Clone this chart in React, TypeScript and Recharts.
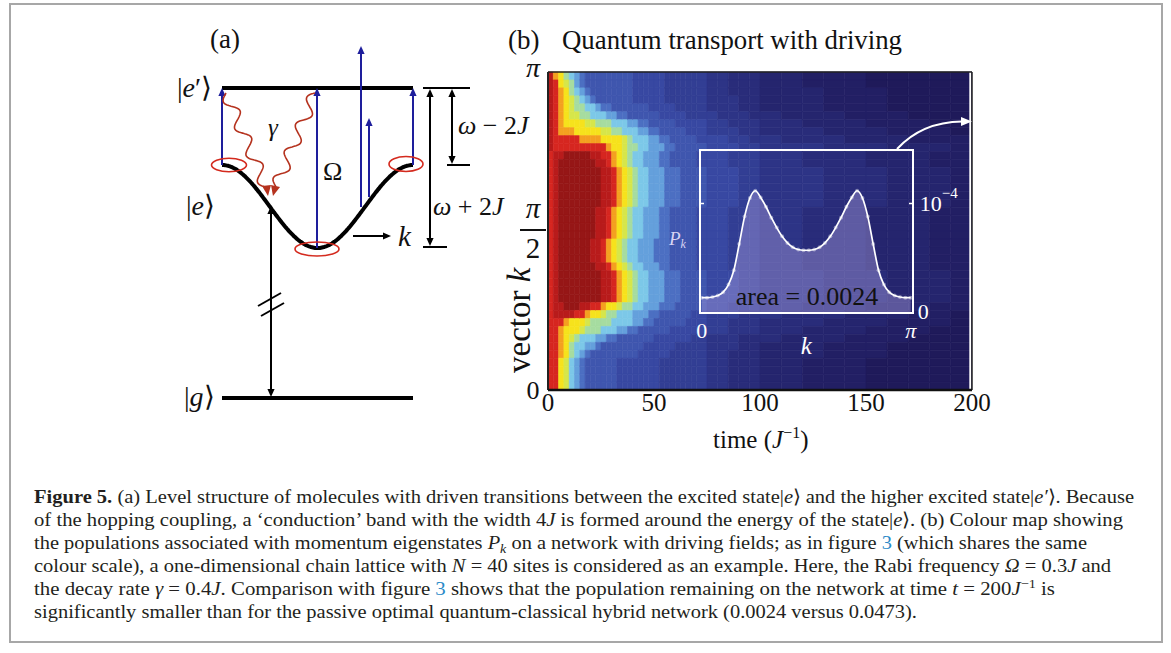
import React from 'react';
import { BarChart, Bar, Cell, XAxis, YAxis, ReferenceLine, AreaChart, Area } from 'recharts';

const FONT = '"Liberation Serif", "Times New Roman", serif';

// column edges of the colour map, in units of J^-1
const timeEdges = [
  0, 2.5, 5, 7.5, 10, 12.5, 15, 17.5, 20, 22.5, 25, 27.5, 30, 32.5, 35, 37.5, 40, 42.5, 45, 47.5,
  50, 52.5, 55, 57.5, 60, 62.5, 65, 67.5, 70, 75, 80, 85, 90, 95, 100, 110, 120, 130, 140, 150,
  160, 170, 180, 190, 200,
];
const timeTicks = [0, 50, 100, 150, 200];
const innerTicks = [50, 100, 150];
// k rows that carry the tick labels pi, pi/2 and 0 (row 0 is k = pi)
const kTickRows = [0, 19, 39];
const finalTime = 199.2;
const endTime = 200;

// colour levels, low (navy) to high (dark red)
const levelChars = '0123456789abcdefgh';
const levelColors = [
  '#1f1a5a', '#221f64', '#25256e', '#292c7a', '#2d3486', '#323e94', '#3848a2', '#3f56ae',
  '#4c6fc2', '#64a0dc', '#7cc8e8', '#a6dca0', '#d6e64a', '#f6e21c', '#f4a020', '#d62620',
  '#b81b1b', '#961616',
];

// one string per k row (k = pi first), one char per time column
const heatRows = [
  'gedba98 777777777 666666 5555555 | 44333 | 2211100000',
  'gfdcb98 777777777 666666 5555555 | 44333 | 2211100000',
  'gfedba98 77777777 666666 5555555 | 44333 | 2221110000',
  'gfedcba98 7777777 666666 5555555 | 44433 | 2221110000',
  'gfedcbbaa988 7777777 66666 55555 | 44433 | 2221110000',
  'gfedccbbaaa9988 777777 66666 555 | 54443 | 3222111000',
  'gfeddddccbbbaaa9988 77777 66666 | 55444 | 3322211100',
  'gfeeedddddccbbaaa9988 77777 666 | 55544 | 3332221110',
  'gfffffeeeeddddcbaaa9988 77777 6 | 66554 | 4333222111',
  'gffffffffffeddcbbaa99988 77777 | 66655 | 4443332221',
  'fgghhhhhggffedcbaa99988 777776 | 66555 | 4433322211',
  'fghhhhhhhggfedcbaa99988 777776 | 66555 | 4433322211',
  'fghhhhhhhhggfedcbaa999888 7777 | 66655 | 4443332221',
  'fghhhhhhhhggfedcbaa999888 7777 | 66655 | 4443332221',
  'fghhhhhhhhggfedcbaa999888 7777 | 66655 | 4443332221',
  'fghhhhhhhhggfedcbaa999888 7777 | 66655 | 4443332221',
  'fghhhhhhhhggfedcbaa999888 7777 | 66655 | 4443332221',
  'fghhhhhhhggfedcbaa99988 777776 | 66555 | 4433322211',
  'fghhhhhhhggfedcbaa99988 777776 | 66555 | 4433322211',
  'fghhhhhhhggfedcbaa99988 777776 | 66555 | 4433322211',
  'fghhhhhhhggfedcbaa99988 777776 | 66555 | 4433322211',
  'fghhhhhhggfedcbaa999888 777776 | 66555 | 4433322211',
  'fghhhhhhggfedcbaa999888 777776 | 66555 | 4433322211',
  'fghhhhhhggfedcbaa999888 777776 | 66555 | 4433322211',
  'fghhhhhhhggfedcbaa99988 777776 | 66555 | 4433322211',
  'fghhhhhhhhggfedcbaa999888 7777 | 66655 | 4443332221',
  'fghhhhhhhhggfedcbaa999888 7777 | 66655 | 4443332221',
  'fghhhhhhhhggfedcbaa999888 7777 | 66655 | 4443332221',
  'fghhhhhhhhggfedcbaa999888 7777 | 66655 | 4443332221',
  'fgghhhggffeddcbbaa999888 77777 | 66555 | 4433322211',
  'fggggffeddcbbaaa99988 777777 66 | 55544 | 4333222110',
  'fffedddcbbbbaaaa9988 777777 666 | 55444 | 3332221110',
  'ffedddcbbbaaa9988 777777 666666 | 55444 | 3322211100',
  'ffedcbaaa9988 7777777 6666666 55 | 44433 | 3222111000',
  'ffedbaa998 77777777 666666 55555 | 44433 | 2221110000',
  'ffedba98 777777777 666666 555555 | 44333 | 2221110000',
  'ffdca98 777777 66666666 55555555 | 44333 | 2211100000',
  'ffdca98 777777 66666666 55555555 | 44333 | 2211100000',
  'ffdca98 777777 66666666 55555555 | 44333 | 2211100000',
  'ffdca98 777777 66666666 55555555 | 44333 | 2211100000',
];

// inset: final population per site (units of 1e-4)
const insetSite = [
  1, 2, 3, 4, 5, 6, 7, 8, 9, 10, 11, 12, 13, 14, 15, 16, 17, 18, 19, 20,
  21, 22, 23, 24, 25, 26, 27, 28, 29, 30, 31, 32, 33, 34, 35, 36, 37, 38, 39, 40,
];
const insetP = [
  0.14, 0.14, 0.146, 0.16, 0.19, 0.26, 0.39, 0.63, 0.88, 1.05, 1.116, 1.055, 0.97, 0.87, 0.78,
  0.7, 0.64, 0.6, 0.58, 0.573, 0.573, 0.58, 0.6, 0.64, 0.7, 0.78, 0.87, 0.97, 1.055, 1.116,
  1.05, 0.88, 0.63, 0.39, 0.26, 0.19, 0.16, 0.146, 0.14, 0.14,
];
const insetXTicks = [1, 40];
const insetYTicks = [0, 1];

const heatLevels = heatRows.map((r) => r.replace(/[\s|]/g, ''));
const heatData = heatLevels.map((_, i) => {
  const row: Record<string, number> = { row: i };
  for (let j = 0; j < timeEdges.length - 1; j++) row['s' + j] = timeEdges[j + 1] - timeEdges[j];
  return row;
});
const colourAt = (i: number, j: number) => {
  const idx = levelChars.indexOf(heatLevels[i][j] ?? '0');
  return levelColors[Math.max(0, idx)];
};
const insetData = insetSite.map((s, i) => ({ site: s, p: insetP[i] }));

// half of one k row, so labels sit on the edges / between rows 19 and 20
const HALF_ROW = 318 / heatRows.length / 2;

const KTick = (props: any) => {
  const { x, y, payload } = props;
  const cx = x - 15;
  const v = payload.value;
  if (v === 0) {
    const yy = y - HALF_ROW;
    return (
      <text x={cx} y={yy + 5} textAnchor="middle" fontSize={28} fontStyle="italic" fontFamily={FONT} fill="#111">
        π
      </text>
    );
  }
  const yy = y + HALF_ROW;
  if (v === 19) {
    return (
      <g fontFamily={FONT} fill="#111">
        <text x={cx} y={yy - 13} textAnchor="middle" fontSize={29} fontStyle="italic">π</text>
        <line x1={cx - 13} x2={cx + 13} y1={yy - 1} y2={yy - 1} stroke="#111" strokeWidth={2} />
        <text x={cx} y={yy + 27} textAnchor="middle" fontSize={29}>2</text>
      </g>
    );
  }
  return (
    <text x={cx} y={yy + 9} textAnchor="middle" fontSize={26} fontFamily={FONT} fill="#111">
      0
    </text>
  );
};

const InsetXTick = (props: any) => {
  const { x, y, payload } = props;
  const isPi = payload.value !== 1;
  return (
    <text x={x} y={y + 25} textAnchor="middle" fill="#fff" fontSize={22} fontFamily={FONT} fontStyle={isPi ? 'italic' : 'normal'}>
      {isPi ? 'π' : '0'}
    </text>
  );
};

const InsetYTick = (props: any) => {
  const { x, y, payload } = props;
  if (payload.value === 0) {
    return (
      <text x={x} y={y + 6} fill="#fff" fontSize={22} fontFamily={FONT}>0</text>
    );
  }
  return (
    <text x={x + 2} y={y + 8} fill="#fff" fontSize={22} fontFamily={FONT}>
      10<tspan dy={-13} fontSize={15}>−4</tspan>
    </text>
  );
};

const head = (x: number, y: number, dir: 'up' | 'down' | 'right', color: string, s = 8) => {
  const w = s * 0.45;
  let pts = '';
  if (dir === 'up') pts = `${x},${y} ${x - w},${y + s} ${x + w},${y + s}`;
  if (dir === 'down') pts = `${x},${y} ${x - w},${y - s} ${x + w},${y - s}`;
  if (dir === 'right') pts = `${x},${y} ${x - s},${y - w} ${x - s},${y + w}`;
  return <polygon points={pts} fill={color} />;
};

const wavy = (x0: number, y0: number, x1: number, y1: number, amp: number, waves: number) => {
  const dx = x1 - x0;
  const dy = y1 - y0;
  const len = Math.hypot(dx, dy);
  const nx = -dy / len;
  const ny = dx / len;
  let d = '';
  for (let i = 0; i <= 80; i++) {
    const s = i / 80;
    const o = amp * Math.sin(2 * Math.PI * waves * s);
    const px = x0 + dx * s + nx * o;
    const py = y0 + dy * s + ny * o;
    d += (i === 0 ? 'M' : 'L') + px.toFixed(1) + ' ' + py.toFixed(1) + ' ';
  }
  return d;
};

const band = (() => {
  let d = '';
  for (let x = 222; x <= 413; x += 1) {
    const y = 206.5 - 41.5 * Math.cos((2 * Math.PI * (x - 222)) / 191);
    d += (x === 222 ? 'M' : 'L') + x + ' ' + y.toFixed(1) + ' ';
  }
  return d;
})();

const BLUE = '#1e1e9c';
const RED = '#d42a1e';
const WAVE = '#b5321e';

const PanelA = () => (
  <g fontFamily={FONT} fill="#111">
    <text x={210} y={48} fontSize={27}>(a)</text>
    <line x1={222} y1={88} x2={413} y2={88} stroke="#000" strokeWidth={4} />
    <line x1={222} y1={398} x2={413} y2={398} stroke="#000" strokeWidth={4} />
    <path d={band} stroke="#000" strokeWidth={4} fill="none" />
    {/* driving arrows */}
    <g stroke={BLUE} strokeWidth={2}>
      <line x1={222} y1={165} x2={222} y2={95} />
      <line x1={317} y1={248} x2={317} y2={95} />
      <line x1={413} y1={165} x2={413} y2={95} />
      <line x1={361} y1={207} x2={361} y2={53} />
      <line x1={369} y1={197} x2={369} y2={125} />
    </g>
    {head(222, 88, 'up', BLUE)}
    {head(317, 88, 'up', BLUE)}
    {head(413, 88, 'up', BLUE)}
    {head(361, 46, 'up', BLUE)}
    {head(369, 118, 'up', BLUE)}
    <g stroke={RED} strokeWidth={1.6} fill="none">
      <ellipse cx={229} cy={165} rx={17.5} ry={6.7} />
      <ellipse cx={317} cy={249} rx={22} ry={7} />
      <ellipse cx={406} cy={164} rx={17} ry={7.5} />
    </g>
    {/* decay */}
    <path d={wavy(226, 93, 266, 187, 6, 3.5)} stroke={WAVE} strokeWidth={1.6} fill="none" />
    <path d={wavy(315, 93, 276, 187, 6, 3.5)} stroke={WAVE} strokeWidth={1.6} fill="none" />
    <polygon points="268,196 262,186 271,185" fill={WAVE} />
    <polygon points="273,196 271,185 280,187" fill={WAVE} />
    {/* ground to band */}
    <line x1={271} y1={214} x2={271} y2={390} stroke="#000" strokeWidth={2} />
    {head(271, 206, 'up', '#000')}
    {head(271, 397, 'down', '#000')}
    <line x1={258} y1={306} x2={281} y2={293} stroke="#000" strokeWidth={2} />
    <line x1={261} y1={316} x2={284} y2={303} stroke="#000" strokeWidth={2} />
    {/* widths */}
    <line x1={423} y1={88} x2={470} y2={88} stroke="#000" strokeWidth={2} />
    <line x1={423} y1={247} x2={447} y2={247} stroke="#000" strokeWidth={2} />
    <line x1={447} y1={165} x2={470} y2={165} stroke="#000" strokeWidth={2} />
    <line x1={430} y1={96} x2={430} y2={239} stroke="#000" strokeWidth={2} />
    {head(430, 89, 'up', '#000')}
    {head(430, 246, 'down', '#000')}
    <line x1={452} y1={96} x2={452} y2={157} stroke="#000" strokeWidth={2} />
    {head(452, 89, 'up', '#000')}
    {head(452, 164, 'down', '#000')}
    <line x1={353} y1={236} x2={383} y2={236} stroke="#000" strokeWidth={2} />
    {head(391, 236, 'right', '#000')}
    {/* labels */}
    <text x={177} y={97} fontSize={28}>|<tspan fontStyle="italic">e</tspan>′⟩</text>
    <text x={186} y={215} fontSize={28}>|<tspan fontStyle="italic">e</tspan>⟩</text>
    <text x={184} y={406} fontSize={28}>|<tspan fontStyle="italic">g</tspan>⟩</text>
    <text x={268} y={136} fontSize={25} fontStyle="italic">γ</text>
    <text x={323} y={180} fontSize={26}>Ω</text>
    <text x={398} y={246} fontSize={29} fontStyle="italic">k</text>
    <text x={458} y={134} fontSize={26}><tspan fontStyle="italic">ω</tspan> − 2<tspan fontStyle="italic">J</tspan></text>
    <text x={433} y={215} fontSize={26}><tspan fontStyle="italic">ω</tspan> + 2<tspan fontStyle="italic">J</tspan></text>
  </g>
);

const capStyle = { fontFamily: FONT, fontSize: 19, fill: '#231f20' } as const;
const I = ({ children }: { children: React.ReactNode }) => <tspan fontStyle="italic">{children}</tspan>;
const LINK = '#2a8ac8';

const Caption = () => (
  <g style={capStyle}>
    <text x={34} y={503} textLength={1100} lengthAdjust="spacingAndGlyphs">
      <tspan fontWeight="bold">Figure 5.</tspan> (a) Level structure of molecules with driven transitions between the excited state|<I>e</I>⟩ and the higher excited state|<I>e′</I>⟩. Because
    </text>
    <text x={34} y={526} textLength={1089} lengthAdjust="spacingAndGlyphs">
      of the hopping coupling, a ‘conduction’ band with the width 4<I>J</I> is formed around the energy of the state|<I>e</I>⟩. (b) Colour map showing
    </text>
    <text x={34} y={549} textLength={1053} lengthAdjust="spacingAndGlyphs">
      the populations associated with momentum eigenstates <I>P</I><tspan fontSize={13} dy={4} fontStyle="italic">k</tspan><tspan dy={-4}> on a network with driving fields; as in figure </tspan><tspan fill={LINK}>3</tspan> (which shares the same
    </text>
    <text x={34} y={572} textLength={1077} lengthAdjust="spacingAndGlyphs">
      colour scale), a one-dimensional chain lattice with <I>N</I> = 40 sites is considered as an example. Here, the Rabi frequency <I>Ω</I> = 0.3<I>J</I> and
    </text>
    <text x={34} y={595} textLength={1021} lengthAdjust="spacingAndGlyphs">
      the decay rate <I>γ</I> = 0.4<I>J</I>. Comparison with figure <tspan fill={LINK}>3</tspan> shows that the population remaining on the network at time <I>t</I> = 200<I>J</I><tspan fontSize={13} dy={-7}>−1</tspan><tspan dy={7}> is</tspan>
    </text>
    <text x={34} y={618} textLength={883} lengthAdjust="spacingAndGlyphs">
      significantly smaller than for the passive optimal quantum-classical hybrid network (0.0024 versus 0.0473).
    </text>
  </g>
);

const PanelBLabels = () => (
  <g fontFamily={FONT} fill="#111">
    <text x={508} y={49} fontSize={27}>(b)</text>
    <text x={562} y={49} fontSize={27} textLength={340} lengthAdjust="spacingAndGlyphs">Quantum transport with driving</text>
    <text x={713} y={448} fontSize={25}>
      time (<I>J</I><tspan fontSize={16} dy={-10}>−1</tspan><tspan dy={10}>)</tspan>
    </text>
    <text transform="translate(530 373) rotate(-90)" fontSize={33}>
      vector <I>k</I>
    </text>
    {/* inset frame and decorations */}
    <rect x={700} y={150} width={213} height={163} fill="none" stroke="#fff" strokeWidth={2} />
    <line x1={700} y1={203.5} x2={704} y2={203.5} stroke="#fff" strokeWidth={1.5} />
    <line x1={909} y1={203.5} x2={913} y2={203.5} stroke="#fff" strokeWidth={1.5} />
    <text x={669} y={245} fontSize={19} fill="#d8d4f4" fontStyle="italic">
      P<tspan fontSize={12} dy={3}>k</tspan>
    </text>
    <text x={807} y={305} fontSize={26} textAnchor="middle" fill="#111">area = 0.0024</text>
    <path d="M 897 149 Q 922 122 962 121.5" stroke="#fff" strokeWidth={2} fill="none" />
    <polygon points="972,121.5 961,117 961,126" fill="#fff" />
  </g>
);

const App: React.FC = () => {
  const bars = timeEdges.slice(0, -1).map((_, j) => (
    <Bar key={j} dataKey={'s' + j} stackId="t" isAnimationActive={false}>
      {heatLevels.map((__, i) => (
        <Cell key={i} fill={colourAt(i, j)} stroke={colourAt(i, j)} strokeWidth={0.6} />
      ))}
    </Bar>
  ));

  return (
    <div style={{ position: 'absolute', left: 0, top: 0, width: 1171, height: 653, background: '#fff', overflow: 'hidden' }}>
      <div
        style={{
          position: 'absolute', left: 9, top: 3, width: 1154, height: 640,
          border: '2px solid #a7a7a7', boxSizing: 'border-box',
        }}
      />
      <div style={{ position: 'absolute', left: 0, top: 0 }}>
        <BarChart
          width={1171}
          height={653}
          data={heatData}
          layout="vertical"
          barCategoryGap={0}
          barGap={0}
          margin={{ top: 72, right: 199, bottom: 223, left: 508 }}
        >
          {bars}
          <YAxis
            yAxisId={0}
            type="category"
            dataKey="row"
            ticks={kTickRows}
            interval={0}
            width={40}
            tickSize={0}
            tickMargin={0}
            tick={<KTick />}
            axisLine={{ stroke: '#222', strokeWidth: 2 }}
          />
          <XAxis
            xAxisId={0}
            type="number"
            domain={[0, 200]}
            allowDataOverflow
            ticks={timeTicks}
            height={40}
            tickSize={0}
            tickMargin={3}
            tick={{ fontSize: 25, fill: '#111', fontFamily: FONT }}
            axisLine={{ stroke: '#111', strokeWidth: 2.5 }}
          />
          <XAxis
            xAxisId="top"
            orientation="top"
            mirror
            type="number"
            domain={[0, 200]}
            allowDataOverflow
            ticks={innerTicks}
            tick={false}
            tickSize={5}
            tickLine={{ stroke: '#222' }}
            axisLine={{ stroke: '#222', strokeWidth: 1.5 }}
          />
          <XAxis
            xAxisId="bt"
            orientation="bottom"
            mirror
            type="number"
            domain={[0, 200]}
            allowDataOverflow
            ticks={innerTicks}
            tick={false}
            tickSize={5}
            tickLine={{ stroke: '#222' }}
            axisLine={false}
          />
          <ReferenceLine xAxisId={0} yAxisId={0} x={finalTime} stroke="#fff" strokeWidth={2} />
          <ReferenceLine xAxisId={0} yAxisId={0} x={endTime} stroke="#222" strokeWidth={1.5} />
        </BarChart>
      </div>
      <div style={{ position: 'absolute', left: 660, top: 140 }}>
        <AreaChart width={320} height={220} data={insetData} margin={{ top: 10, right: 0, bottom: 0, left: 41.7 }}>
          <XAxis
            dataKey="site"
            type="number"
            domain={[1, 40]}
            ticks={insetXTicks}
            height={47}
            tickSize={0}
            tickMargin={0}
            axisLine={false}
            tick={<InsetXTick />}
            label={{ value: 'k', position: 'insideBottom', offset: 6, fill: '#fff', fontSize: 25, fontStyle: 'italic', fontFamily: FONT }}
          />
          <YAxis
            yAxisId="r"
            orientation="right"
            type="number"
            domain={[0, 1.488]}
            allowDataOverflow
            ticks={insetYTicks}
            width={69.3}
            tickSize={0}
            tickMargin={7}
            axisLine={false}
            tick={<InsetYTick />}
          />
          <Area
            yAxisId="r"
            type="monotone"
            dataKey="p"
            stroke="#fff"
            strokeWidth={1.7}
            fill="#b0a2e2"
            fillOpacity={0.4}
            dot={{ r: 2, fill: '#fff', stroke: 'none' }}
            isAnimationActive={false}
          />
        </AreaChart>
      </div>
      <svg width={1171} height={653} style={{ position: 'absolute', left: 0, top: 0, pointerEvents: 'none' }}>
        <PanelA />
        <PanelBLabels />
        <Caption />
      </svg>
    </div>
  );
};

export default App;
